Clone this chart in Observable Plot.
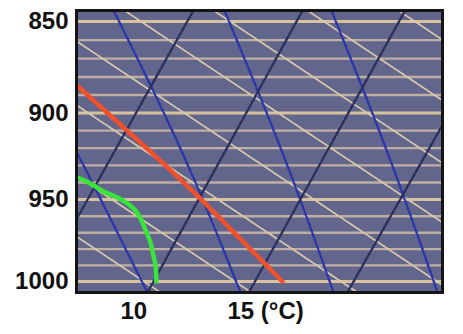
<!DOCTYPE html>
<html><head><meta charset="utf-8">
<script src="https://cdn.jsdelivr.net/npm/d3@7"></script>
<script src="https://cdn.jsdelivr.net/npm/@observablehq/plot@0.6"></script>
<style>body{margin:0;background:#fff;}</style>
</head><body><div id="chart"></div>
<script>
// Axis ticks
const pressureTicks = [850, 900, 950, 1000];
const tempTicks = [10, 15];
// Isobars (hPa)
const isobarLevels = [850, 860, 870, 880, 890, 900, 910, 920, 930, 940, 950, 960, 970, 980, 990, 1000];
// Pressure at top / bottom edge of diagram
const edgeP = [844.2, 1006.9];
// Isotherms (skewed): x-value at top edge and at bottom edge
const isothermTopT = [12.80, 17.90, 22.69, 27.48];
const isothermBottomT = [5.42, 10.65, 15.39, 19.99];
// Dry adiabats: x-value at top edge and bottom edge
const dryTopT = [22.38, 18.13, 13.74, 9.58, 5.19, 0.70, -4.25, -8.50];
const dryBottomT = [42.15, 37.90, 33.50, 29.35, 24.95, 20.47, 15.51, 11.26];
// Moist adiabats: x-values at three pressure levels
const moistP = [844.2, 924.3, 1006.9];
const moistA = [3.93, 7.43, 10.65];
const moistB = [9.07, 12.34, 15.00];
const moistC = [14.25, 17.01, 19.35];
const moistD = [19.25, 21.92, 24.21];
// Temperature sounding (red)
const tempP = [885.0, 922.0, 947.7, 967.6, 1000];
const tempT = [7.38, 10.79, 12.98, 14.53, 16.96];
// Dew point sounding (green)
const dewP = [937.1, 940.6, 945.3, 948.8, 952.4, 956.6, 962.6, 969.8, 975.9, 983.9, 990.0, 1000];
const dewT = [7.38, 7.99, 8.60, 9.25, 9.72, 10.09, 10.37, 10.61, 10.79, 10.93, 11.03, 11.07];

const isotherms = isothermTopT.flatMap((t, i) => [
  {T: isothermBottomT[i], p: edgeP[1], id: i},
  {T: t, p: edgeP[0], id: i}
]);
const dry = dryTopT.flatMap((t, i) => [
  {T: t, p: edgeP[0], id: i},
  {T: dryBottomT[i], p: edgeP[1], id: i}
]);
const moist = [moistA, moistB, moistC, moistD].flatMap((arr, i) =>
  arr.map((t, j) => ({T: t, p: moistP[j], id: i})));
const temp = tempT.map((t, i) => ({T: t, p: tempP[i]}));
const dew = dewT.map((t, i) => ({T: t, p: dewP[i]}));
const isobars = isobarLevels.map(p => ({p, major: p % 50 === 0}));

const chart = Plot.plot({
  width: 463,
  height: 334,
  marginLeft: 76,
  marginRight: 21,
  marginTop: 10,
  marginBottom: 42,
  style: {fontFamily: "'Liberation Sans', Arial, sans-serif", fontSize: "24px", fontWeight: "bold", color: "#111", background: "#fff"},
  x: {domain: [7.336, 24.439]},
  y: {type: "log", domain: [1006.9, 844.2]},
  marks: [
    Plot.frame({fill: "#62668c"}),
    Plot.ruleY(isobars.filter(d => !d.major), {y: "p", stroke: "#bfaea2", strokeWidth: 2.4}),
    Plot.ruleY(isobars.filter(d => d.major), {y: "p", stroke: "#d8c29e", strokeWidth: 3}),
    Plot.line(dry, {x: "T", y: "p", z: "id", stroke: "#dacaac", strokeWidth: 1.7, strokeDasharray: "3,1", clip: true}),
    Plot.line(moist, {x: "T", y: "p", z: "id", stroke: "#2a36aa", strokeWidth: 2.4, strokeDasharray: "4,2", curve: "natural", clip: true}),
    Plot.line(isotherms, {x: "T", y: "p", z: "id", stroke: "#2a2f5c", strokeWidth: 2.4, strokeDasharray: "4,2", clip: true}),
    Plot.line(temp, {x: "T", y: "p", stroke: "#f2502a", strokeWidth: 4.5, curve: "natural", clip: true}),
    Plot.line(dew, {x: "T", y: "p", stroke: "#3ae43a", strokeWidth: 4.5, curve: "catmull-rom", clip: true}),
    Plot.frame({stroke: "#151515", strokeWidth: 3}),
    Plot.axisY({ticks: pressureTicks, tickFormat: d => String(d), tickSize: 0, tickPadding: 8, label: null, fontSize: 24, fontWeight: "bold", fill: "#111"}),
    Plot.axisX({ticks: tempTicks, tickFormat: d => d === 15 ? "15 (°C)" : String(d), tickSize: 0, tickPadding: 9, textAnchor: "start", dx: -13, label: null, fontSize: 24, fontWeight: "bold", fill: "#111"})
  ]
});
document.getElementById("chart").appendChild(chart);
</script>
</body></html>
